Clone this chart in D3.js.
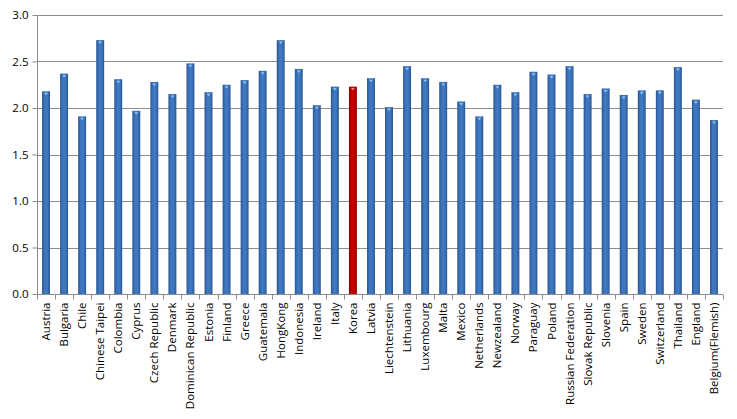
<!DOCTYPE html>
<html><head><meta charset="utf-8">
<script src="https://cdn.jsdelivr.net/npm/d3@7"></script>
<style>body{margin:0;background:#fff}svg{display:block}</style>
</head><body>
<svg id="c" width="737" height="419"></svg>
<script>
const categories = ["Austria","Bulgaria","Chile","Chinese Taipei","Colombia","Cyprus","Czech Republic","Denmark","Dominican Republic","Estonia","Finland","Greece","Guatemala","HongKong","Indonesia","Ireland","Italy","Korea","Latvia","Liechtenstein","Lithuania","Luxembourg","Malta","Mexico","Netherlands","Newzealand","Norway","Paraguay","Poland","Russian Federation","Slovak Republic","Slovenia","Spain","Sweden","Switzerland","Thailand","England","Belgium(Flemish)"];
const values = [2.18,2.37,1.91,2.73,2.31,1.97,2.28,2.15,2.48,2.17,2.25,2.30,2.40,2.73,2.42,2.03,2.23,2.23,2.32,2.01,2.45,2.32,2.28,2.07,1.91,2.25,2.17,2.39,2.36,2.45,2.15,2.21,2.14,2.19,2.19,2.44,2.09,1.87];
const highlight = ["Korea"];
const yTicks = [0,0.5,1.0,1.5,2.0,2.5,3.0];

const svg = d3.select("#c");
const m = {l:37, r:14, t:15, b:125};
const W = 737, H = 419;
const x = d3.scaleBand().domain(categories).range([m.l, W - m.r]).paddingInner(0.56).paddingOuter(0.28);
const y = d3.scaleLinear().domain([0,3]).range([H - m.b, m.t]);

const defs = svg.append("defs");
function grad(id, edge, mid){
  const g = defs.append("linearGradient").attr("id", id).attr("x1","0").attr("x2","1").attr("y1","0").attr("y2","0");
  g.append("stop").attr("offset","0").attr("stop-color", edge);
  g.append("stop").attr("offset","0.35").attr("stop-color", mid);
  g.append("stop").attr("offset","0.65").attr("stop-color", mid);
  g.append("stop").attr("offset","1").attr("stop-color", edge);
}
grad("gb", "#2a5690", "#3f78c0");
grad("gr", "#8e0000", "#c40000");

// gridlines
svg.append("g").selectAll("line").data(yTicks.filter(d => d > 0)).join("line")
  .attr("x1", m.l).attr("x2", W - m.r)
  .attr("y1", d => Math.round(y(d)) + 0.5).attr("y2", d => Math.round(y(d)) + 0.5)
  .attr("stroke", "#8c8c8c").attr("stroke-width", 1);

// bars
const bars = svg.append("g").selectAll("g").data(categories).join("g");
bars.append("rect")
  .attr("x", d => x(d)).attr("width", x.bandwidth())
  .attr("y", (d,i) => y(values[i])).attr("height", (d,i) => y(0) - y(values[i]))
  .attr("fill", d => highlight.includes(d) ? "url(#gr)" : "url(#gb)");
bars.append("path")
  .attr("d", (d,i) => {
    const cx = x(d) + x.bandwidth()/2, ty = y(values[i]) + 1.5;
    return `M${cx-2},${ty} L${cx+2},${ty} L${cx},${ty+2.5} Z`;
  })
  .attr("fill", d => highlight.includes(d) ? "#f08080" : "#8fc3ef");

// y axis
const ya = svg.append("g").attr("transform", `translate(${m.l + 0.5},0)`)
  .call(d3.axisLeft(y).tickValues(yTicks).tickFormat(d3.format(".1f")).tickSize(5).tickPadding(4));
ya.select(".domain").attr("stroke", "#8c8c8c").attr("d", `M0,${y(3)}V${y(0)}`);
ya.selectAll(".tick line").attr("stroke", "#8c8c8c");
ya.selectAll(".tick text").attr("font-family", "'Open Sans', Arial, sans-serif").attr("font-size", 11.5).attr("fill", "#000");

// x axis
const xa = svg.append("g").attr("transform", `translate(0,${Math.round(y(0)) + 0.5})`)
  .call(d3.axisBottom(x).tickSize(0).tickPadding(6));
xa.select(".domain").attr("stroke", "#8c8c8c").attr("d", `M${m.l},0H${W - m.r}`);
const bounds = d3.range(categories.length + 1).map(i => m.l + i * (W - m.r - m.l) / categories.length);
xa.selectAll(".bt").data(bounds).join("line").attr("class","bt")
  .attr("x1", d => Math.round(d) + 0.5).attr("x2", d => Math.round(d) + 0.5)
  .attr("y1", 0).attr("y2", 5).attr("stroke", "#8c8c8c");
xa.selectAll(".tick text")
  .attr("font-family", "'Open Sans', Arial, sans-serif").attr("font-size", 11.5).attr("fill", "#000")
  .attr("text-anchor", "end").attr("dy", "0.35em")
  .attr("transform", "translate(0,2) rotate(-90)")
  .attr("x", -6).attr("y", 0);
</script>
</body></html>
